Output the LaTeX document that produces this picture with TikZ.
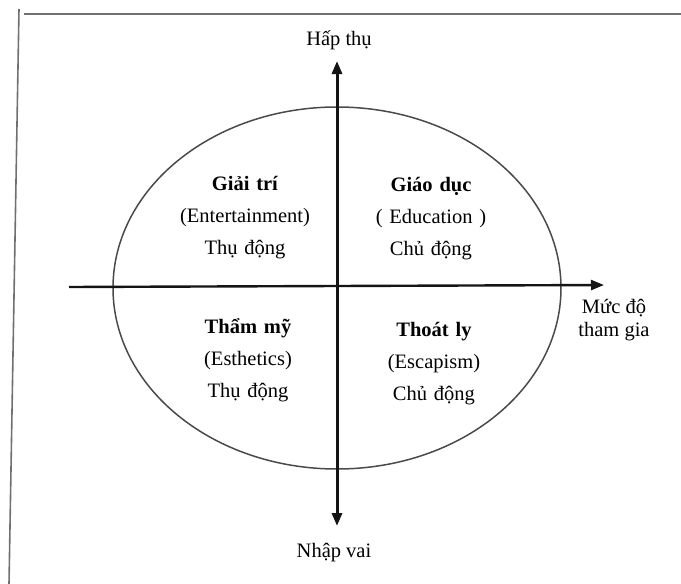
\documentclass[tikz,border=0pt]{standalone}
\usepackage{fontspec}
\setmainfont{Liberation Serif}
\usetikzlibrary{arrows.meta,positioning}
\definecolor{FrameGray}{HTML}{707070}
\definecolor{RingGray}{HTML}{4A4A4A}
\definecolor{AxisBlack}{HTML}{141414}

\begin{document}
\begin{tikzpicture}[
  x=1pt,y=-1pt,
  every node/.style={font=\fontsize{20.5}{32}\selectfont,align=center,inner sep=0pt},
  frame/.style={draw=FrameGray,line width=1.6pt},
  ring/.style={draw=RingGray,line width=1.5pt},
  axis/.style={draw=AxisBlack,line width=2.4pt},
  tip/.style={-{Triangle[length=13pt,width=10pt]}},
  quad/.style={text width=170pt},
  lbl/.style={font=\fontsize{20.5}{23}\selectfont}
]
\useasboundingbox (0,0) rectangle (681,584);
% khung
\draw[frame] (19,9) -- (9,584);
\draw[frame] (24,14) -- (681,14);
% vong tron
\draw[ring] (337,288) ellipse [x radius=224, y radius=181];
% truc
\coordinate (hL) at (69,287);
\coordinate (hR) at (604,285);
\coordinate (vT) at (337,61);
\coordinate (vB) at (337,526);
\draw[axis,tip] (hL) -- (hR);
\draw[axis,line width=3pt,{Triangle[length=13pt,width=10pt]}-{Triangle[length=13pt,width=10pt]}] (vB) -- (vT);
% nhan truc
\node[lbl] (hapthu) at (339,40) {Hấp thụ};
\node[lbl] (nhapvai) at (334,553) {Nhập vai};
\node[lbl] (thamgia) at (614,320) {Mức độ\\tham gia};
% bon goc phan tu
\node[quad] (giaitri) at (245,218) {\textbf{Giải trí}\\(Entertainment)\\Thụ động};
\node[quad] (giaoduc) at (431,219) {\textbf{Giáo dục}\\( Education )\\Chủ động};
\node[quad] (thammy) at (248,360) {\textbf{Thẩm mỹ}\\(Esthetics)\\Thụ động};
\node[quad] (thoatly) at (434,364) {\textbf{Thoát ly}\\(Escapism)\\Chủ động};
\end{tikzpicture}
\end{document}
